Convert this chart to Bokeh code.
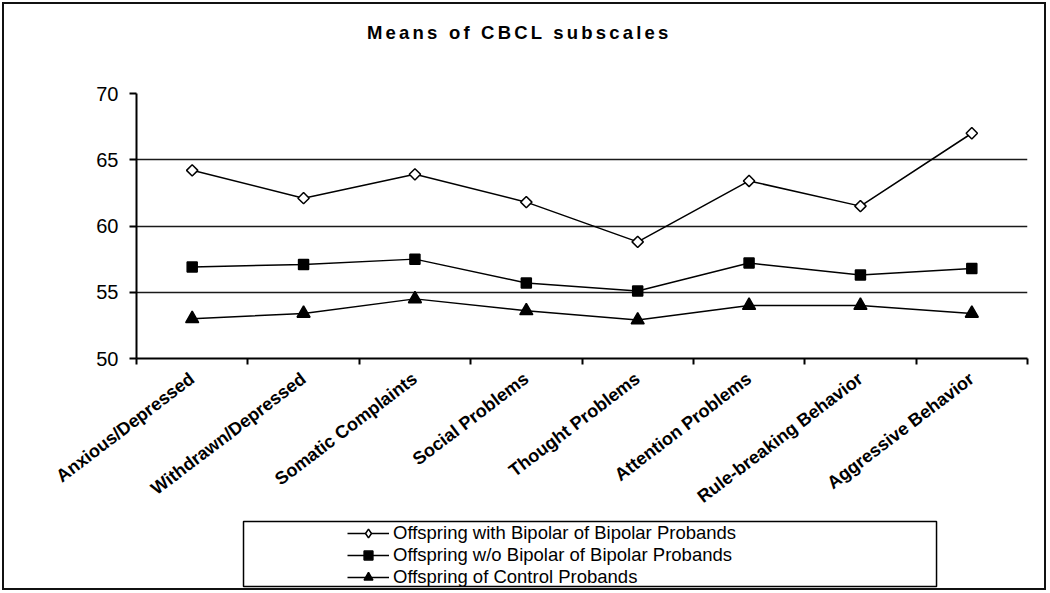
import math
from bokeh.plotting import figure
from bokeh.layouts import column
from bokeh.models import Range1d, FixedTicker, Legend, LegendItem, BoxAnnotation, Div
from bokeh.embed import file_html
from bokeh.resources import INLINE

# ---- data ----
categories = ["Anxious/Depressed", "Withdrawn/Depressed", "Somatic Complaints",
              "Social Problems", "Thought Problems", "Attention Problems",
              "Rule-breaking Behavior", "Aggressive Behavior"]
bipolar_offspring = [64.2, 62.1, 63.9, 61.8, 58.8, 63.4, 61.5, 67.0]
nonbipolar_offspring = [56.9, 57.1, 57.5, 55.7, 55.1, 57.2, 56.3, 56.8]
control_offspring = [53.0, 53.4, 54.5, 53.6, 52.9, 54.0, 54.0, 53.4]
series_names = ["Offspring with Bipolar of Bipolar Probands",
                "Offspring w/o Bipolar of Bipolar Probands",
                "Offspring of Control Probands"]
y_ticks = [50, 55, 60, 65, 70]
grid_values = [55, 60, 65]
title_text = "Means of CBCL subscales"

FONT = "Liberation Sans"
n = len(categories)
x_pos = [i + 0.5 for i in range(n)]
bounds = list(range(n + 1))

# ---- title strip ----
title_div = Div(
    text=('<div style="padding-left:367px; padding-top:20px; font-family:\'Liberation Sans\', Arial, sans-serif;'
          ' font-weight:bold; font-size:18.5px; letter-spacing:3.2px; color:#000; white-space:nowrap;">'
          + title_text + '</div>'),
    width=1048, height=45, margin=0)

# ---- main chart ----
p = figure(width=1048, height=473, x_range=Range1d(0, n), y_range=Range1d(y_ticks[0], y_ticks[-1]),
           output_backend="svg", toolbar_location=None,
           min_border_left=136, min_border_right=21, min_border_top=48, min_border_bottom=160)
p.outline_line_color = None
p.background_fill_color = "white"
p.border_fill_alpha = 0

p.xgrid.visible = False
p.ygrid.ticker = FixedTicker(ticks=grid_values)
p.ygrid.grid_line_color = "#1a1a1a"
p.ygrid.grid_line_width = 1.5

xa = p.xaxis[0]
xa.ticker = FixedTicker(ticks=x_pos, minor_ticks=bounds)
xa.major_label_overrides = {x: c for x, c in zip(x_pos, categories)}
xa.major_tick_out = 0
xa.major_tick_in = 0
xa.minor_tick_out = 6
xa.minor_tick_in = 0
xa.minor_tick_line_color = "black"
xa.minor_tick_line_width = 2
xa.axis_line_color = "black"
xa.axis_line_width = 2
xa.major_label_orientation = 0.65
xa.major_label_standoff = 12
xa.major_label_text_font = FONT
xa.major_label_text_font_style = "bold"
xa.major_label_text_font_size = "18px"
xa.major_label_text_color = "black"

ya = p.yaxis[0]
ya.ticker = FixedTicker(ticks=y_ticks)
ya.major_tick_out = 7
ya.major_tick_in = 0
ya.major_tick_line_color = "black"
ya.major_tick_line_width = 2
ya.axis_line_color = "black"
ya.axis_line_width = 2
ya.major_label_standoff = 11
ya.major_label_text_font = FONT
ya.major_label_text_font_size = "20px"
ya.major_label_text_color = "black"

series = [bipolar_offspring, nonbipolar_offspring, control_offspring]
markers = [dict(marker="square", angle=math.pi / 4, size=8, fill_color="white"),
           dict(marker="square", angle=0, size=10, fill_color="black"),
           dict(marker="triangle", angle=0, size=13, fill_color="black")]
legend_markers = ["diamond", "square", "triangle"]
for vals, mk in zip(series, markers):
    p.line(x_pos, vals, line_color="black", line_width=1.5)
    p.scatter(x_pos, vals, marker=mk["marker"], angle=mk["angle"], size=mk["size"],
              fill_color=mk["fill_color"], line_color="black", line_width=1.5)

# ---- legend panel under the chart (same frame width as the chart) ----
p2 = figure(width=1048, height=74, x_range=Range1d(0, 1), y_range=Range1d(0, 1),
            x_axis_location=None, y_axis_location=None,
            output_backend="svg", toolbar_location=None,
            min_border_left=136, min_border_right=21, min_border_top=0, min_border_bottom=0)
p2.grid.visible = False
p2.outline_line_color = None
p2.border_fill_alpha = 0
p2.background_fill_alpha = 0

# framed legend box (fractions of the legend panel)
p2.add_layout(BoxAnnotation(left=0.1201, right=0.8979, top=0.9595, bottom=0.0811,
                            fill_alpha=0, line_color="black", line_alpha=1.0, line_width=1.5))

items = []
for name, vals, mk, lm in zip(series_names, series, markers, legend_markers):
    # series re-drawn in the legend panel only to supply legend glyphs;
    # the panel's y-range keeps these out of view
    lr = p2.line(x_pos, vals, line_color="black", line_width=1.5)
    sr = p2.scatter(x_pos, vals, marker=lm, size=mk["size"],
                    fill_color=mk["fill_color"], line_color="black", line_width=1.5)
    items.append(LegendItem(label=name, renderers=[lr, sr]))

legend = Legend(items=items, location=(211, 4), border_line_color=None,
                background_fill_alpha=0, padding=0, margin=0, spacing=0,
                label_height=22, glyph_height=22, glyph_width=42, label_standoff=4,
                label_text_font=FONT, label_text_font_size="18.5px", label_text_color="black")
p2.add_layout(legend)

layout = column(title_div, p, p2, spacing=0,
                styles={"outline": "2px solid #111111", "outline-offset": "-4px"})

open("out.html", "w").write(file_html(layout, INLINE))
